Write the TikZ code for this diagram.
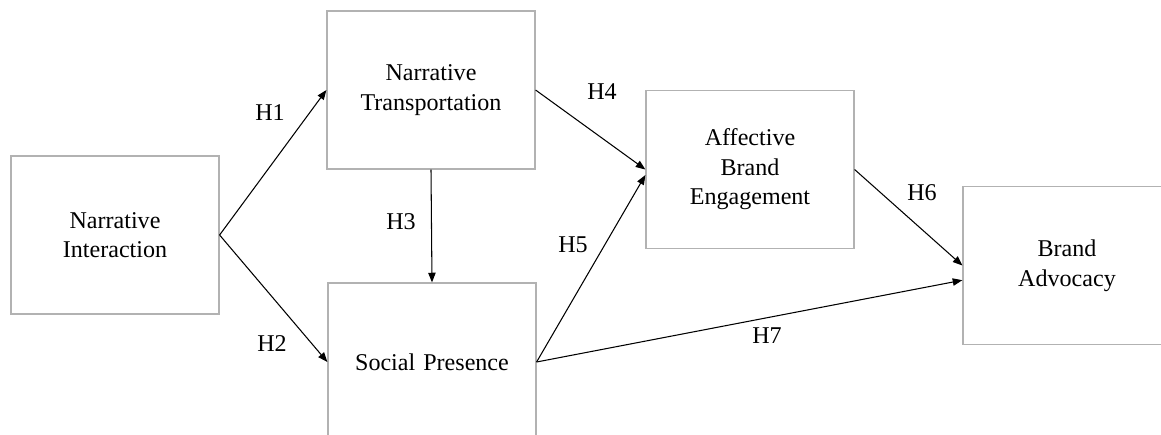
\documentclass[tikz,border=0pt]{standalone}
\usepackage{fontspec}
\setmainfont{Liberation Serif}
\usetikzlibrary{arrows.meta}

\begin{document}
\begin{tikzpicture}[
    x=0.02cm, y=-0.02cm,
    box/.style={draw=gray!60, line width=0.7pt, minimum width=4.16cm, minimum height=3.16cm,
                text width=3.9cm, align=center, font=\fontsize{13.7}{16.8}\selectfont},
    arr/.style={-{Triangle[length=5.5pt,width=4.2pt]}, line width=0.6pt},
    hyp/.style={font=\fontsize{13.7}{16.8}\selectfont}
]
\clip (0,0) rectangle (1161,434);
\node[box] (ni)  at (115,235)   {Narrative\\Interaction};
\node[box] (nt)  at (431,90)    {Narrative\\Transportation};
\node[box] (sp)  at (432,362)   {Social Presence};
\node[box] (abe) at (750,169.5) {Affective\\Brand\\Engagement};
\node[box] (ba)  at (1067,265.5) {Brand\\Advocacy};
\draw[arr] (ni.east) -- (nt.west);
\draw[arr] (ni.east) -- (sp.west);
\draw[arr] (nt.south) -- (sp.north);
\draw[arr] (nt.east) -- (abe.west);
\draw[arr] (sp.east) -- (abe.183);
\draw[arr] (abe.east) -- (ba.west);
\draw[arr] (sp.east) -- (ba.188);
\node[hyp] (h1) at (270,113) {H1};
\node[hyp] (h2) at (272,344) {H2};
\node[hyp] (h3) at (401,222) {H3};
\node[hyp] (h4) at (602,92)  {H4};
\node[hyp] (h5) at (573,245) {H5};
\node[hyp] (h6) at (922,193) {H6};
\node[hyp] (h7) at (767,336) {H7};
\end{tikzpicture}
\end{document}
